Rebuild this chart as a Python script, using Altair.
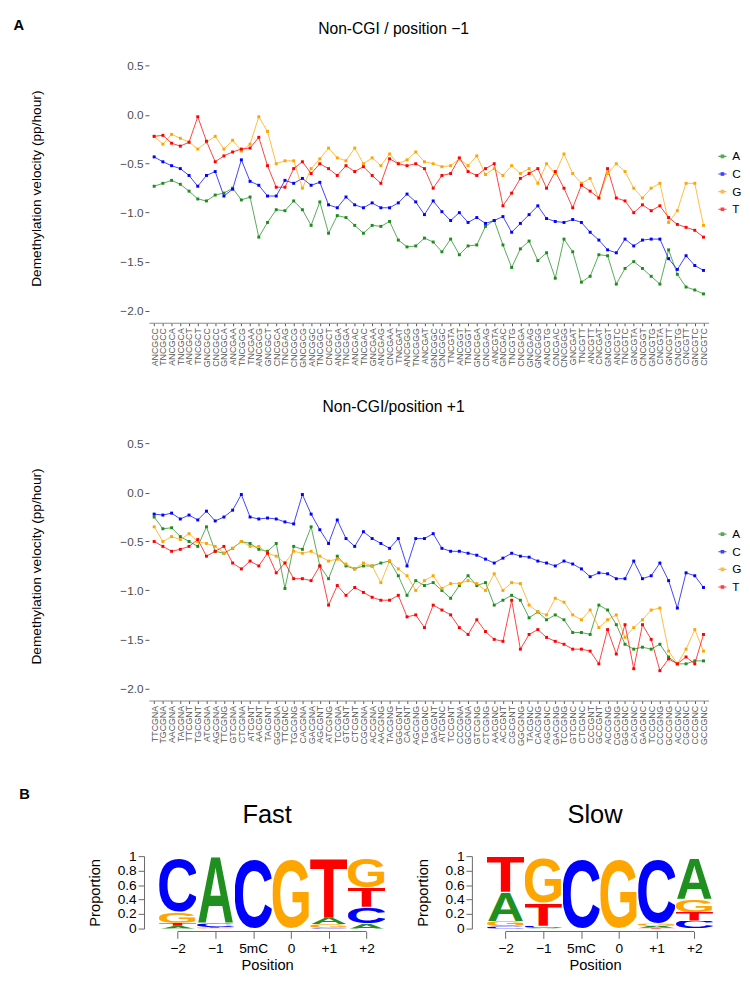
import urllib.parse
import altair as alt
import pandas as pd

BASES = ["A", "C", "G", "T"]
LINE_COLORS = ["#1E8C1E", "#0000FF", "#FFA500", "#FF0000"]
LOGO_COLORS = {"A": "#1F8F1F", "C": "#0000FF", "G": "#FFA500", "T": "#FF0000"}

# ---------------- panel A, top: Non-CGI / position -1 ----------------
TOP_LABELS = ["ANCGCC","TNCGCC","ANCGCA","TNCGCA","ANCGCT","TNCGCT","GNCGCC","CNCGCC","GNCGCA","ANCGAA",
              "TNCGCG","TNCGAA","ANCGCG","GNCGCT","CNCGCA","TNCGAG","CNCGCG","GNCGCG","ANCGGC","TNCGGC",
              "CNCGCT","ANCGGA","TNCGGA","ANCGAC","TNCGAC","GNCGAA","ANCGAG","CNCGAA","TNCGAT","ANCGGG",
              "TNCGGG","ANCGAT","GNCGGC","CNCGGC","TNCGTA","ANCGGT","TNCGGT","GNCGGA","CNCGAG","ANCGTA",
              "GNCGAC","TNCGTG","CNCGGA","GNCGAG","GNCGGG","ANCGTG","CNCGAC","CNCGGG","GNCGAT","TNCGTT",
              "ANCGTT","CNCGAT","GNCGGT","ANCGTC","TNCGTC","GNCGTA","CNCGGT","GNCGTG","CNCGTA","GNCGTT",
              "CNCGTG","CNCGTT","GNCGTC","CNCGTC"]
TOP_A = [-0.73,-0.70,-0.67,-0.71,-0.78,-0.86,-0.88,-0.82,-0.80,-0.75,-0.87,-0.84,-1.25,-1.10,-0.97,-0.98,
         -0.88,-0.97,-1.13,-0.89,-1.21,-1.03,-1.05,-1.13,-1.21,-1.13,-1.14,-1.09,-1.28,-1.35,-1.34,-1.26,
         -1.30,-1.40,-1.27,-1.43,-1.34,-1.33,-1.14,-1.08,-1.33,-1.56,-1.37,-1.29,-1.49,-1.41,-1.67,-1.27,
         -1.40,-1.71,-1.65,-1.43,-1.44,-1.73,-1.57,-1.50,-1.57,-1.65,-1.73,-1.38,-1.63,-1.76,-1.79,-1.83]
TOP_C = [-0.43,-0.48,-0.52,-0.55,-0.62,-0.73,-0.62,-0.58,-0.83,-0.76,-0.46,-0.68,-0.72,-0.83,-0.83,-0.67,
         -0.70,-0.65,-0.72,-0.69,-0.92,-0.95,-0.84,-0.92,-0.95,-0.90,-0.95,-0.95,-0.90,-0.81,-0.89,-1.02,
         -0.88,-0.99,-1.08,-1.00,-1.10,-1.05,-1.11,-1.08,-1.04,-1.20,-1.11,-1.02,-0.93,-1.06,-1.09,-1.10,
         -1.07,-1.10,-1.20,-1.28,-1.38,-1.41,-1.27,-1.34,-1.28,-1.27,-1.27,-1.47,-1.58,-1.44,-1.54,-1.59]
TOP_G = [-0.22,-0.30,-0.20,-0.24,-0.28,-0.35,-0.28,-0.22,-0.35,-0.26,-0.37,-0.30,-0.02,-0.17,-0.50,-0.47,
         -0.47,-0.75,-0.55,-0.45,-0.34,-0.44,-0.47,-0.34,-0.50,-0.44,-0.52,-0.40,-0.50,-0.46,-0.38,-0.48,
         -0.50,-0.53,-0.52,-0.45,-0.52,-0.42,-0.61,-0.55,-0.62,-0.52,-0.60,-0.55,-0.70,-0.50,-0.60,-0.40,
         -0.60,-0.70,-0.65,-0.85,-0.60,-0.50,-0.58,-0.75,-0.85,-0.75,-0.70,-1.10,-0.98,-0.70,-0.70,-1.13]
TOP_T = [-0.22,-0.21,-0.29,-0.32,-0.28,-0.02,-0.27,-0.48,-0.42,-0.38,-0.35,-0.34,-0.23,-0.52,-0.74,-0.74,
         -0.55,-0.48,-0.60,-0.50,-0.55,-0.62,-0.52,-0.58,-0.53,-0.62,-0.70,-0.45,-0.50,-0.52,-0.50,-0.55,
         -0.75,-0.62,-0.60,-0.44,-0.58,-0.62,-0.55,-0.50,-0.93,-0.80,-0.65,-0.60,-0.55,-0.75,-0.58,-0.75,
         -0.95,-0.72,-0.78,-0.85,-0.55,-0.85,-0.88,-1.00,-0.92,-0.98,-0.93,-1.05,-1.12,-1.15,-1.18,-1.25]

# ---------------- panel A, bottom: Non-CGI / position +1 ----------------
BOT_LABELS = ["TTCGNA","TGCGNA","AACGNA","TACGNA","TTCGNT","TGCGNT","ATCGNA","AGCGNA","TTCGNG","GTCGNA",
              "CTCGNA","ATCGNT","AACGNT","TACGNT","GGCGNA","TTCGNC","TGCGNG","CACGNA","GACGNA","AGCGNT",
              "ATCGNG","TCCGNA","GTCGNT","CTCGNT","CGCGNA","ACCGNA","AACGNG","TACGNG","GGCGNT","CACGNT",
              "AGCGNG","TGCGNC","GACGNT","ATCGNC","TCCGNT","CCCGNA","GCCGNA","GTCGNG","CTCGNG","AACGNC",
              "ACCGNT","CGCGNT","GGCGNG","TACGNC","CACGNG","AGCGNC","GACGNG","TCCGNG","GTCGNC","CTCGNC",
              "CCCGNT","GCCGNT","ACCGNG","CGCGNG","GGCGNC","CACGNC","GACGNC","TCCGNC","CCCGNG","GCCGNG",
              "ACCGNC","CGCGNC","CCCGNC","GCCGNC"]
BOT_A = [-0.25,-0.37,-0.36,-0.45,-0.50,-0.55,-0.35,-0.60,-0.62,-0.57,-0.50,-0.52,-0.58,-0.60,-0.52,-0.98,
         -0.55,-0.58,-0.35,-0.75,-0.88,-0.65,-0.75,-0.78,-0.75,-0.75,-0.72,-0.70,-0.85,-1.05,-0.90,-0.95,
         -0.92,-1.00,-1.08,-0.95,-0.85,-0.95,-0.92,-1.15,-1.10,-1.05,-1.10,-1.28,-1.22,-1.30,-1.25,-1.30,
         -1.43,-1.43,-1.45,-1.15,-1.20,-1.35,-1.55,-1.60,-1.58,-1.60,-1.55,-1.68,-1.75,-1.75,-1.72,-1.72]
BOT_C = [-0.22,-0.23,-0.21,-0.27,-0.23,-0.28,-0.19,-0.29,-0.25,-0.18,-0.02,-0.25,-0.27,-0.26,-0.27,-0.30,
         -0.32,-0.02,-0.22,-0.38,-0.52,-0.28,-0.47,-0.55,-0.40,-0.47,-0.52,-0.57,-0.47,-0.75,-0.47,-0.47,
         -0.42,-0.57,-0.60,-0.60,-0.62,-0.64,-0.68,-0.72,-0.67,-0.62,-0.65,-0.66,-0.70,-0.72,-0.75,-0.70,
         -0.73,-0.78,-0.86,-0.82,-0.83,-0.88,-0.88,-0.70,-0.88,-0.85,-0.72,-0.90,-1.18,-0.82,-0.85,-0.97]
BOT_G = [-0.35,-0.50,-0.45,-0.48,-0.42,-0.50,-0.52,-0.55,-0.62,-0.57,-0.50,-0.55,-0.55,-0.62,-0.65,-0.72,
         -0.60,-0.62,-0.60,-0.65,-0.70,-0.68,-0.73,-0.78,-0.72,-0.75,-0.92,-0.70,-0.78,-0.85,-1.00,-0.90,
         -0.85,-0.98,-0.93,-0.93,-0.90,-0.93,-1.00,-0.83,-1.00,-0.92,-0.93,-1.15,-1.22,-1.25,-1.08,-1.12,
         -1.25,-1.30,-1.20,-1.38,-1.30,-1.25,-1.48,-1.38,-1.30,-1.20,-1.18,-1.62,-1.75,-1.60,-1.40,-1.62]
BOT_T = [-0.50,-0.55,-0.60,-0.58,-0.55,-0.48,-0.65,-0.60,-0.55,-0.72,-0.78,-0.70,-0.75,-0.62,-0.82,-0.72,
         -0.88,-0.88,-0.90,-0.75,-1.15,-0.95,-1.05,-0.97,-1.02,-1.07,-1.10,-1.10,-1.05,-1.27,-1.25,-1.38,
         -1.15,-1.20,-1.25,-1.38,-1.45,-1.30,-1.42,-1.50,-1.52,-1.10,-1.60,-1.45,-1.40,-1.48,-1.52,-1.55,
         -1.60,-1.60,-1.62,-1.75,-1.40,-1.65,-1.35,-1.80,-1.35,-1.50,-1.82,-1.70,-1.75,-1.68,-1.75,-1.45]

# ---------------- panel B: sequence logos ----------------
POS_LABELS = ["\u22122", "\u22121", "5mC", "0", "+1", "+2"]
FAST_A = [0.04, 0.93, 0.00, 0.00, 0.09, 0.07]
FAST_C = [0.77, 0.05, 1.00, 0.00, 0.01, 0.23]
FAST_G = [0.15, 0.01, 0.00, 1.00, 0.05, 0.43]
FAST_T = [0.04, 0.01, 0.00, 0.00, 0.85, 0.27]
SLOW_A = [0.41, 0.01, 0.00, 0.00, 0.03, 0.57]
SLOW_C = [0.03, 0.03, 1.00, 0.00, 0.93, 0.11]
SLOW_G = [0.07, 0.65, 0.00, 1.00, 0.03, 0.18]
SLOW_T = [0.49, 0.31, 0.00, 0.00, 0.01, 0.12]

FONT = "Liberation Sans"
PLOT_W, PLOT_H = 572, 275
LOGO_STEP = 38.6
LOGO_LEFT = 0.26
LOGO_W = (6 + LOGO_LEFT) * LOGO_STEP
LOGO_H = 74

# glyph boxes of Liberation Sans Bold at font-size 100
GLYPH_BOX = {"A": (0.0, -71.8, 72.0, 71.8), "C": (4.2, -73.4, 64.0, 75.2),
             "G": (4.2, -73.4, 69.0, 75.2), "T": (2.0, -71.8, 57.3, 71.8)}


def letter_uri(ch):
    x0, y0, w, h = GLYPH_BOX[ch]
    svg = ("<svg xmlns='http://www.w3.org/2000/svg' width='%g' height='%g' viewBox='%g %g %g %g' "
           "preserveAspectRatio='none'><text x='0' y='0' font-family='Liberation Sans, Arial, sans-serif' "
           "font-weight='bold' font-size='100' fill='%s'>%s</text></svg>") % (w, h, x0, y0, w, h, LOGO_COLORS[ch], ch)
    return "data:image/svg+xml;charset=utf-8," + urllib.parse.quote(svg)


def make_line(labels, A, C, G, T, title):
    rows = []
    for b, vals in zip(BASES, [A, C, G, T]):
        for lab, v in zip(labels, vals):
            rows.append({"motif": lab, "base": b, "v": v})
    df = pd.DataFrame(rows)
    x = alt.X("motif:N", sort=labels, scale=alt.Scale(type="point", padding=0.6),
              axis=alt.Axis(title=None, labelAngle=270, labelFontSize=9, labelColor="#555555",
                            labelFont=FONT, tickColor="#555555", tickSize=3, labelPadding=2,
                            domainColor="#888888", labelOverlap=False))
    y = alt.Y("v:Q", scale=alt.Scale(domain=[-2.125, 0.625], nice=False, zero=False),
              axis=alt.Axis(values=[0.5, 0, -0.5, -1, -1.5, -2], format=".1f",
                            title="Demethylation velocity (pp/hour)", titleFontSize=14,
                            titleFontWeight="normal", titleColor="black", labelFontSize=12,
                            labelColor="#4d4d4d", tickColor="#555555", tickSize=4, grid=False,
                            domain=False, titlePadding=78, labelPadding=2))
    color = alt.Color("base:N", scale=alt.Scale(domain=BASES, range=LINE_COLORS),
                      legend=alt.Legend(title=None, orient="none", legendX=PLOT_W + 8, legendY=99,
                                        labelFontSize=12, symbolType="M-1,0H1M-0.3,-0.3H0.3V0.3H-0.3Z",
                                        symbolSize=70, symbolStrokeWidth=1.2, rowPadding=6))
    base = alt.Chart(df).encode(x=x, y=y, color=color)
    lines = base.mark_line(strokeWidth=1, opacity=0.75)
    pts = base.mark_point(filled=True, size=9, shape="square", opacity=1)
    return alt.layer(lines, pts).properties(
        width=PLOT_W, height=PLOT_H,
        title=alt.TitleParams(title, fontSize=16, fontWeight="normal", font=FONT, anchor="middle",
                              frame="group", dx=-36, offset=17, color="black"))


def make_logo(A, C, G, T, title):
    rows = []
    props = {"A": A, "C": C, "G": G, "T": T}
    for i in range(len(POS_LABELS)):
        col = sorted([(props[b][i], b) for b in BASES if props[b][i] > 0])
        y0 = 0.0
        for p, b in col:
            rows.append({"x0": i - 0.49, "x1": i + 0.49, "y0": y0, "y1": y0 + p, "url": letter_uri(b)})
            y0 += p
    df = pd.DataFrame(rows)
    label_expr = "[" + ",".join("'%s'" % s for s in POS_LABELS) + "][datum.value]"
    img = alt.Chart(df).mark_image(aspect=False).encode(
        x=alt.X("x0:Q", scale=alt.Scale(domain=[-0.5 - LOGO_LEFT, 5.5], nice=False, zero=False),
                axis=alt.Axis(values=[0, 1, 2, 3, 4, 5], labelExpr=label_expr, domain=False, grid=False,
                              tickSize=7, tickColor="#666666", labelFontSize=14, labelColor="black",
                              title="Position", titleFontSize=15, titleFontWeight="normal",
                              titleColor="black", offset=3, labelPadding=3, titlePadding=3)),
        x2="x1:Q",
        y=alt.Y("y0:Q", scale=alt.Scale(domain=[0, 1], nice=False),
                axis=alt.Axis(values=[0, 0.2, 0.4, 0.6, 0.8, 1], labelExpr="format(datum.value, '~g')",
                              grid=False, tickSize=6, tickColor="#666666", domainColor="#666666",
                              labelFontSize=14, labelColor="black", title="Proportion",
                              titleFontSize=15, titleFontWeight="normal", titleColor="black",
                              offset=5, labelPadding=2, titlePadding=15)),
        y2="y1:Q",
        url="url:N",
    )
    rule = alt.Chart(pd.DataFrame({"a": [0], "b": [5]})).mark_rule(color="#666666", strokeWidth=1).encode(
        x="a:Q", x2="b:Q", y=alt.value(LOGO_H + 3))
    return alt.layer(img, rule).properties(
        width=LOGO_W, height=LOGO_H,
        title=alt.TitleParams(title, fontSize=26, fontWeight="normal", font=FONT, anchor="middle",
                              frame="group", offset=22, color="black"))


top = make_line(TOP_LABELS, TOP_A, TOP_C, TOP_G, TOP_T, "Non-CGI / position \u22121")
bottom = make_line(BOT_LABELS, BOT_A, BOT_C, BOT_G, BOT_T, "Non-CGI/position +1")
lines = alt.vconcat(top, bottom, spacing=31).resolve_scale(color="independent")
logos = alt.hconcat(
    make_logo(FAST_A, FAST_C, FAST_G, FAST_T, "Fast"),
    make_logo(SLOW_A, SLOW_C, SLOW_G, SLOW_T, "Slow"), spacing=30,
    title=alt.TitleParams("B", anchor="start", fontSize=15, fontWeight="bold", font=FONT,
                          dx=-70, offset=0, color="black"))

chart = alt.vconcat(
    lines, logos, spacing=42,
    title=alt.TitleParams("A", anchor="start", fontSize=15, fontWeight="bold", font=FONT,
                          dx=-6, offset=-12, color="black"),
).properties(padding={"left": 5, "top": 0, "right": 0, "bottom": 0}).configure(
    font=FONT).configure_view(stroke=None)

chart.save("out.html", embed_options={"renderer": "svg", "actions": False})
